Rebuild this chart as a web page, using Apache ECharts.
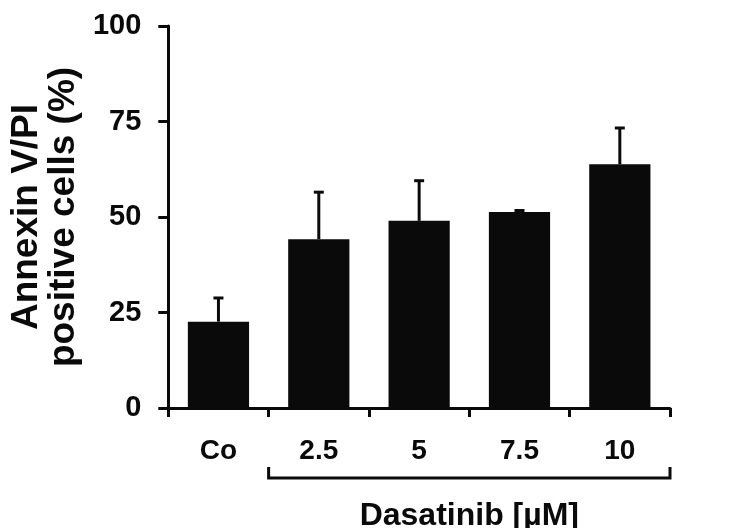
<!DOCTYPE html>
<html>
<head>
<meta charset="utf-8">
<script src="https://cdn.jsdelivr.net/npm/echarts@6/dist/echarts.min.js"></script>
<style>html,body{margin:0;padding:0;background:#fff}#c{width:746px;height:528px}</style>
</head>
<body>
<div id="c"></div>
<script>
const categories = ['Co', '2.5', '5', '7.5', '10'];
const means = [22.6, 44.2, 49.0, 51.3, 63.8];
const sdUpper = [6.2, 12.3, 10.5, 0.4, 9.5];
const yMin = 0, yMax = 100, yStep = 25;
const yTitle = 'Annexin V/PI\npositive cells (%)';
const groupLabel = 'Dasatinib [µM]';
const groupRange = [1, 4];

const FONT = "'Liberation Sans', Arial, sans-serif";
const INK = '#0a0a0a';

const chart = echarts.init(document.getElementById('c'), null, {renderer: 'canvas'});
chart.setOption({
  animation: false,
  backgroundColor: '#fff',
  grid: {left: 167, right: 76, top: 26, bottom: 120},
  xAxis: {
    type: 'category',
    data: categories,
    boundaryGap: true,
    axisLine: {lineStyle: {color: INK, width: 3}},
    axisTick: {show: true, alignWithLabel: false, length: 9, lineStyle: {color: INK, width: 3}},
    axisLabel: {color: INK, fontFamily: FONT, fontWeight: 'bold', fontSize: 28, margin: 29},
    splitLine: {show: false}
  },
  yAxis: {
    type: 'value',
    min: yMin, max: yMax, interval: yStep,
    axisLine: {show: true, lineStyle: {color: INK, width: 3}},
    axisTick: {show: true, length: 10, lineStyle: {color: INK, width: 3}},
    axisLabel: {color: INK, fontFamily: FONT, fontWeight: 'bold', fontSize: 29, margin: 27},
    splitLine: {show: false},
    name: yTitle,
    nameLocation: 'middle',
    nameRotate: 90,
    nameGap: 80,
    nameTextStyle: {color: INK, fontFamily: FONT, fontWeight: 'bold', fontSize: 37, lineHeight: 37, align: 'center'}
  },
  series: [
    {
      type: 'bar',
      data: means,
      barWidth: '61%',
      itemStyle: {color: INK},
      z: 2
    },
    {
      type: 'custom',
      data: means.map((m, i) => [i, m, m + sdUpper[i]]),
      encode: {x: 0, y: [1, 2]},
      z: 3,
      silent: true,
      renderItem: function (params, api) {
        const base = api.coord([api.value(0), api.value(1)]);
        const top = api.coord([api.value(0), api.value(2)]);
        const cap = 5;
        return {
          type: 'group',
          children: [
            {type: 'line', shape: {x1: base[0], y1: base[1], x2: top[0], y2: top[1]}, style: {stroke: INK, lineWidth: 3}},
            {type: 'line', shape: {x1: top[0] - cap, y1: top[1], x2: top[0] + cap, y2: top[1]}, style: {stroke: INK, lineWidth: 3}}
          ]
        };
      }
    },
    {
      type: 'custom',
      data: [groupRange],
      encode: {x: [0, 1]},
      clip: false,
      silent: true,
      renderItem: function (params, api) {
        const a = api.coord([api.value(0), 0]);
        const b = api.coord([api.value(1), 0]);
        const bw = api.size([1, 0])[0];
        const left = a[0] - bw / 2, right = b[0] + bw / 2;
        const y = a[1] + 70;
        return {
          type: 'group',
          children: [
            {type: 'polyline', shape: {points: [[left, y - 11], [left, y], [right, y], [right, y - 11]]}, style: {stroke: INK, lineWidth: 3, fill: null}},
            {type: 'text', style: {text: groupLabel, x: (left + right) / 2, y: y + 38, align: 'center', verticalAlign: 'middle', fill: INK, font: 'bold 32px ' + FONT}}
          ]
        };
      }
    }
  ]
});
</script>
</body>
</html>
